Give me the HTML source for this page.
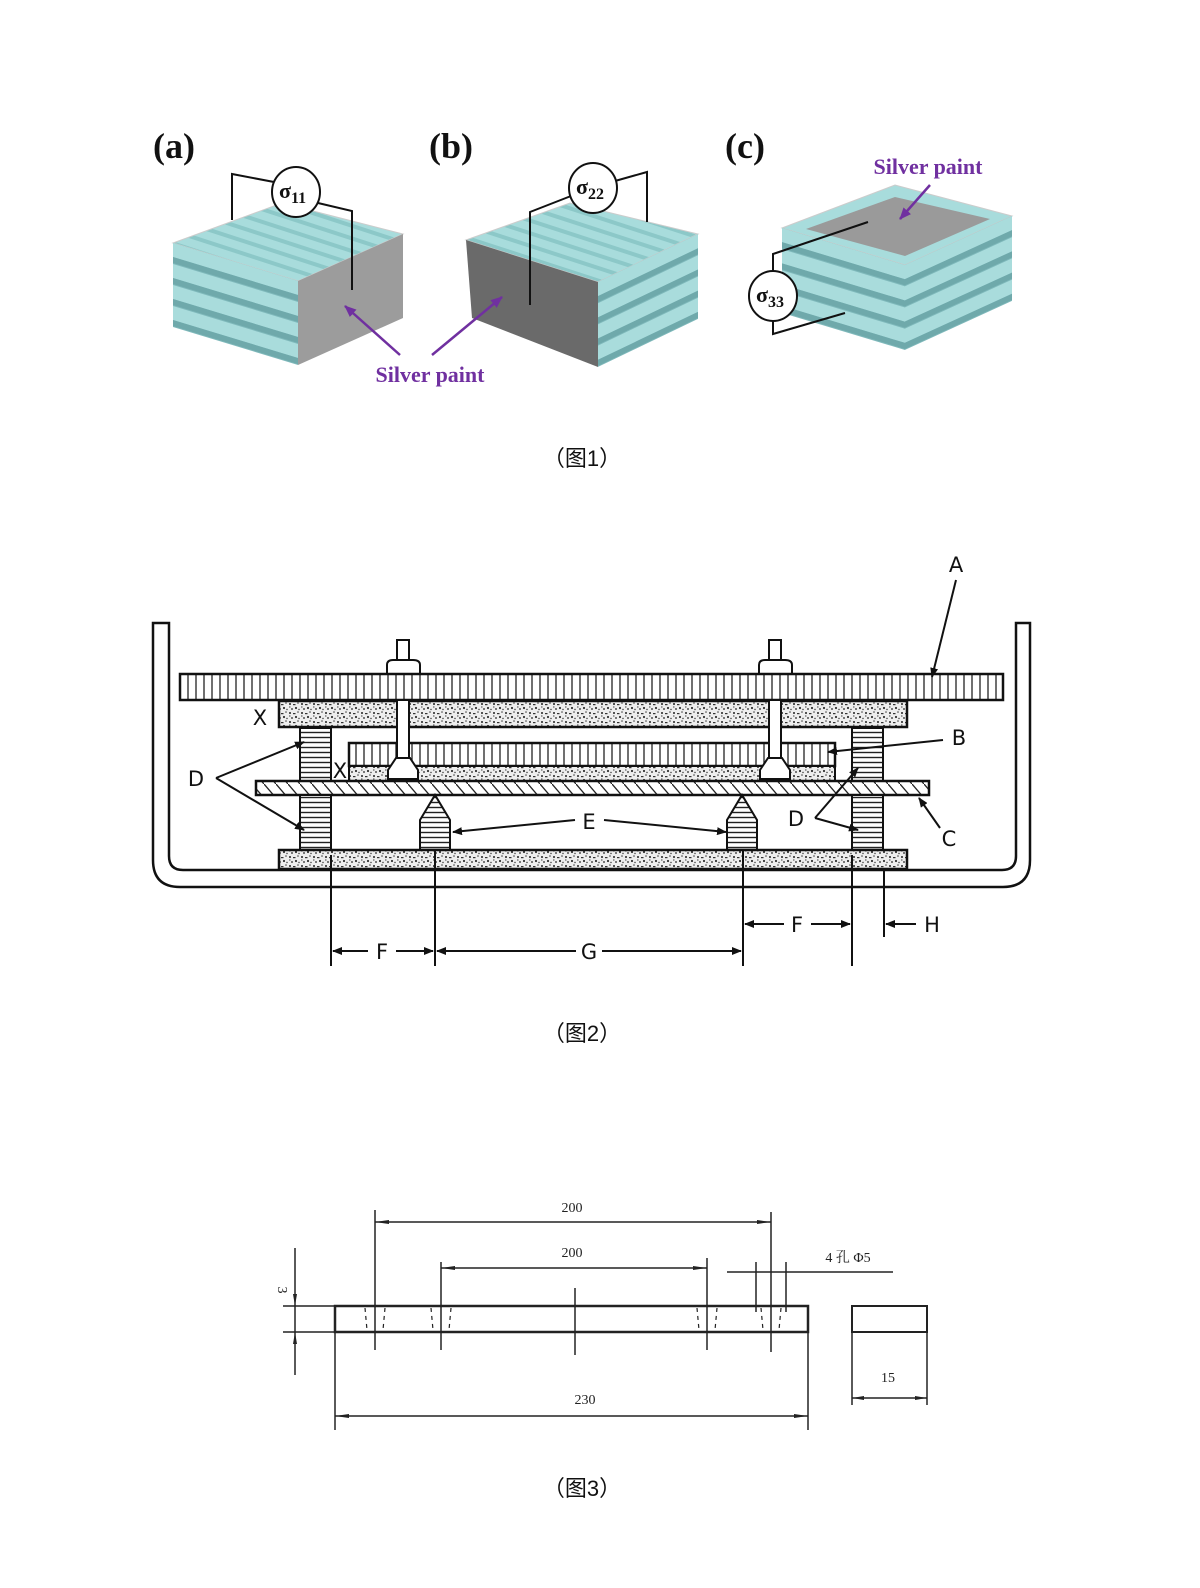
<!DOCTYPE html>
<html><head><meta charset="utf-8"><style>
html,body{margin:0;padding:0;background:#fff}
svg{display:block}
.cap{font-family:"Liberation Sans","Noto Sans CJK SC",sans-serif;font-size:22px;fill:#111}
.lab{font-family:"Liberation Serif",serif;font-weight:bold;font-size:36px;fill:#111}
.sp{font-family:"Liberation Serif",serif;font-weight:bold;font-size:22px;fill:#7030a0}
.sig{font-family:"Liberation Serif",serif;font-weight:bold;font-size:22px;fill:#111}
.f2{font-family:"DejaVu Sans","Liberation Sans",sans-serif;font-size:21px;fill:#111}
.f3{font-family:"Liberation Serif","Noto Serif CJK SC",serif;font-size:14px;fill:#222}
</style></head><body>
<svg width="1200" height="1588" viewBox="0 0 1200 1588" xmlns="http://www.w3.org/2000/svg">
<defs>
<pattern id="vh" width="8" height="10" patternUnits="userSpaceOnUse"><rect width="8" height="10" fill="#fff"/><line x1="4" y1="0" x2="4" y2="10" stroke="#222" stroke-width="1.3"/></pattern>
<pattern id="hh" width="10" height="5" patternUnits="userSpaceOnUse"><rect width="10" height="5" fill="#fff"/><line x1="0" y1="2.5" x2="10" y2="2.5" stroke="#222" stroke-width="1.4"/></pattern>
<pattern id="dh" width="12" height="14" patternUnits="userSpaceOnUse"><rect width="12" height="14" fill="#fff"/><line x1="0" y1="0" x2="12" y2="14" stroke="#222" stroke-width="1.3"/></pattern>
<pattern id="st" width="12" height="9" patternUnits="userSpaceOnUse"><rect width="12" height="9" fill="#eee"/><circle cx="2" cy="2" r="1" fill="#222"/><circle cx="8" cy="6" r="1.1" fill="#333"/><circle cx="10" cy="1" r="0.8" fill="#444"/><circle cx="4" cy="7" r="0.9" fill="#222"/><rect x="5" y="2" width="2.5" height="1.2" fill="#333"/><circle cx="11" cy="7.5" r="0.7" fill="#333"/><rect x="1" y="4.5" width="1.5" height="1" fill="#444"/></pattern>
<pattern id="tt" width="12" height="12" patternUnits="userSpaceOnUse" patternTransform="rotate(18)"><rect width="12" height="12" fill="#a8dcdc"/><rect y="8" width="12" height="4" fill="#8cc8c8"/></pattern>
<g id="bands">
<rect x="0" y="0" width="1" height="84" fill="#7fb9bb"/>
<rect x="0" y="0" width="1" height="14" fill="#a9dcdc"/><rect x="0" y="14" width="1" height="6" fill="#6fa9ab"/>
<rect x="0" y="21" width="1" height="14" fill="#a9dcdc"/><rect x="0" y="35" width="1" height="6" fill="#6fa9ab"/>
<rect x="0" y="42" width="1" height="14" fill="#a9dcdc"/><rect x="0" y="56" width="1" height="6" fill="#6fa9ab"/>
<rect x="0" y="63" width="1" height="14" fill="#a9dcdc"/><rect x="0" y="77" width="1" height="6" fill="#6fa9ab"/>
</g>
<marker id="ar" markerWidth="10" markerHeight="8" refX="9" refY="4" orient="auto" markerUnits="userSpaceOnUse"><path d="M0,0 L10,4 L0,8 Z" fill="#111"/></marker>
<marker id="ap" markerWidth="12" markerHeight="10" refX="11" refY="5" orient="auto" markerUnits="userSpaceOnUse"><path d="M0,0 L12,5 L0,10 Z" fill="#7030a0"/></marker>
</defs>

<!-- FIGURE 1 -->
<text class="lab" x="153" y="158">(a)</text>
<text class="lab" x="429" y="158">(b)</text>
<text class="lab" x="725" y="158">(c)</text>

<!-- block a -->
<polygon points="173,243 282,203 403,234 298,281" fill="url(#tt)" stroke="#ccc"/>
<g transform="translate(173,243) skewY(16.9)"><use href="#bands" transform="scale(125,1)"/></g>
<polygon points="298,281 403,234 403,318 298,365" fill="#9c9c9c"/>
<!-- block b -->
<polygon points="466,240 570,203 698,234 598,282" fill="url(#tt)" stroke="#ccc"/>
<polygon points="466,240 598,282 598,367 472,318" fill="#6a6a6a"/>
<g transform="translate(598,282) skewY(-25.6)"><use href="#bands" transform="scale(100,1.01)"/></g>
<!-- block c -->
<polygon points="782,228 895,185 1012,216 905,265" fill="#a8dcdc" stroke="#ccc"/>
<polygon points="806,229 895,197 990,219 905,256" fill="#9a9a9a"/>
<g transform="translate(782,228) skewY(16.8)"><use href="#bands" transform="scale(123,1.01)"/></g>
<g transform="translate(905,265) skewY(-24.6)"><use href="#bands" transform="scale(107,1.01)"/></g>

<g stroke="#111" stroke-width="2" fill="none">
<polyline points="274,182 232,174 232,220"/>
<polyline points="318,203 352,211 352,290"/>
<polyline points="571,196 530,212 530,305"/>
<polyline points="615,181 647,172 647,222"/>
<polyline points="773,272 773,254 868,222"/>
<polyline points="773,320 773,334 845,313"/>
</g>
<g fill="#fff" stroke="#111" stroke-width="2">
<ellipse cx="296" cy="192" rx="24" ry="25"/>
<ellipse cx="593" cy="188" rx="24" ry="25"/>
<ellipse cx="773" cy="296" rx="24" ry="25"/>
</g>
<text class="sig" x="279" y="198">σ<tspan font-size="16" dy="5">11</tspan></text>
<text class="sig" x="576" y="194">σ<tspan font-size="16" dy="5">22</tspan></text>
<text class="sig" x="756" y="302">σ<tspan font-size="16" dy="5">33</tspan></text>

<g stroke="#7030a0" stroke-width="2.5">
<line x1="400" y1="355" x2="345" y2="306" marker-end="url(#ap)"/>
<line x1="432" y1="355" x2="502" y2="297" marker-end="url(#ap)"/>
<line x1="930" y1="185" x2="900" y2="219" marker-end="url(#ap)"/>
</g>
<text class="sp" x="430" y="382" text-anchor="middle">Silver paint</text>
<text class="sp" x="928" y="174" text-anchor="middle">Silver paint</text>

<text class="cap" x="582" y="466" text-anchor="middle">（图1）</text>

<!-- FIGURE 2 -->
<g stroke="#111" stroke-width="2.5" fill="none">
<path d="M153,623 L153,860 Q153,887 180,887 L1003,887 Q1030,887 1030,860 L1030,623 L1016,623 L1016,856 Q1016,870 1002,870 L183,870 Q169,870 169,856 L169,623 Z" fill="#fff"/>
</g>
<g stroke="#111" stroke-width="2" fill="#fff">
<rect x="397" y="640" width="12" height="130"/>
<rect x="769" y="640" width="12" height="130"/>
<path d="M387,674 L387,665 Q387,660 393,660 L413,660 Q420,660 420,665 L420,674 Z"/>
<path d="M759,674 L759,665 Q759,660 765,660 L785,660 Q792,660 792,665 L792,674 Z"/>
</g>
<rect x="180" y="674" width="823" height="26" fill="url(#vh)" stroke="#111" stroke-width="2.5"/>
<rect x="279" y="701" width="628" height="26" fill="url(#st)" stroke="#111" stroke-width="2.5"/>
<rect x="300" y="728" width="31" height="53" fill="url(#hh)" stroke="#111" stroke-width="2"/>
<rect x="852" y="728" width="31" height="53" fill="url(#hh)" stroke="#111" stroke-width="2"/>
<rect x="349" y="743" width="486" height="23" fill="url(#vh)" stroke="#111" stroke-width="2.5"/>
<rect x="349" y="766" width="486" height="15" fill="url(#st)" stroke="#111" stroke-width="2"/>
<g stroke="#111" stroke-width="2" fill="#fff">
<rect x="397" y="700" width="12" height="70"/>
<rect x="769" y="700" width="12" height="70"/>
<path d="M388,779 L388,770 L396,758 L410,758 L418,770 L418,779 Z"/>
<path d="M760,779 L760,770 L768,758 L782,758 L790,770 L790,779 Z"/>
</g>
<rect x="256" y="781" width="673" height="14" fill="url(#dh)" stroke="#111" stroke-width="2.5"/>
<rect x="300" y="795" width="31" height="55" fill="url(#hh)" stroke="#111" stroke-width="2"/>
<rect x="852" y="795" width="31" height="55" fill="url(#hh)" stroke="#111" stroke-width="2"/>
<polygon points="420,850 420,820 435,795 450,820 450,850" fill="url(#hh)" stroke="#111" stroke-width="2"/>
<polygon points="727,850 727,820 742,795 757,820 757,850" fill="url(#hh)" stroke="#111" stroke-width="2"/>
<rect x="279" y="850" width="628" height="19" fill="url(#st)" stroke="#111" stroke-width="2.5"/>

<g stroke="#111" stroke-width="2" fill="none">
<line x1="331" y1="855" x2="331" y2="966"/>
<line x1="435" y1="850" x2="435" y2="966"/>
<line x1="743" y1="850" x2="743" y2="966"/>
<line x1="852" y1="855" x2="852" y2="966"/>
<line x1="884" y1="870" x2="884" y2="937"/>
<line x1="368" y1="951" x2="333" y2="951" marker-end="url(#ar)"/>
<line x1="396" y1="951" x2="433" y2="951" marker-end="url(#ar)"/>
<line x1="576" y1="951" x2="437" y2="951" marker-end="url(#ar)"/>
<line x1="602" y1="951" x2="741" y2="951" marker-end="url(#ar)"/>
<line x1="784" y1="924" x2="745" y2="924" marker-end="url(#ar)"/>
<line x1="811" y1="924" x2="850" y2="924" marker-end="url(#ar)"/>
<line x1="916" y1="924" x2="886" y2="924" marker-end="url(#ar)"/>
<line x1="956" y1="580" x2="932" y2="677" marker-end="url(#ar)"/>
<line x1="943" y1="740" x2="828" y2="752" marker-end="url(#ar)"/>
<line x1="216" y1="778" x2="304" y2="742" marker-end="url(#ar)"/>
<line x1="216" y1="778" x2="304" y2="830" marker-end="url(#ar)"/>
<line x1="815" y1="818" x2="858" y2="768" marker-end="url(#ar)"/>
<line x1="815" y1="818" x2="858" y2="830" marker-end="url(#ar)"/>
<line x1="575" y1="820" x2="453" y2="832" marker-end="url(#ar)"/>
<line x1="604" y1="820" x2="726" y2="832" marker-end="url(#ar)"/>
<line x1="940" y1="828" x2="919" y2="798" marker-end="url(#ar)"/>
</g>
<g class="f2">
<text x="956" y="572" text-anchor="middle">A</text>
<text x="260" y="725" text-anchor="middle">X</text>
<text x="340" y="778" text-anchor="middle">X</text>
<text x="959" y="745" text-anchor="middle">B</text>
<text x="196" y="786" text-anchor="middle">D</text>
<text x="796" y="826" text-anchor="middle">D</text>
<text x="589" y="829" text-anchor="middle">E</text>
<text x="949" y="846" text-anchor="middle">C</text>
<text x="382" y="959" text-anchor="middle">F</text>
<text x="589" y="959" text-anchor="middle">G</text>
<text x="797" y="932" text-anchor="middle">F</text>
<text x="932" y="932" text-anchor="middle">H</text>
</g>
<text class="cap" x="582" y="1041" text-anchor="middle">（图2）</text>

<!-- FIGURE 3 -->
<g stroke="#222" stroke-width="1.5" fill="none">
<rect x="335" y="1306" width="473" height="26" stroke-width="2.5"/>
<rect x="852" y="1306" width="75" height="26" stroke-width="2"/>
<line x1="283" y1="1306" x2="335" y2="1306"/>
<line x1="283" y1="1332" x2="335" y2="1332"/>
<line x1="295" y1="1248" x2="295" y2="1375"/>
<line x1="375" y1="1210" x2="375" y2="1350"/>
<line x1="771" y1="1212" x2="771" y2="1352"/>
<line x1="375" y1="1222" x2="771" y2="1222"/>
<line x1="441" y1="1262" x2="441" y2="1350"/>
<line x1="707" y1="1258" x2="707" y2="1350"/>
<line x1="441" y1="1268" x2="707" y2="1268"/>
<line x1="575" y1="1288" x2="575" y2="1355"/>
<line x1="727" y1="1272" x2="893" y2="1272"/>
<line x1="756" y1="1262" x2="756" y2="1312"/>
<line x1="786" y1="1262" x2="786" y2="1312"/>
<line x1="335" y1="1332" x2="335" y2="1430"/>
<line x1="808" y1="1332" x2="808" y2="1430"/>
<line x1="335" y1="1416" x2="808" y2="1416"/>
<line x1="852" y1="1332" x2="852" y2="1405"/>
<line x1="927" y1="1332" x2="927" y2="1405"/>
<line x1="852" y1="1398" x2="927" y2="1398"/>
<g stroke-dasharray="4,4" stroke-width="1.2">
<line x1="365" y1="1308" x2="367" y2="1330"/><line x1="385" y1="1308" x2="383" y2="1330"/>
<line x1="431" y1="1308" x2="433" y2="1330"/><line x1="451" y1="1308" x2="449" y2="1330"/>
<line x1="697" y1="1308" x2="699" y2="1330"/><line x1="717" y1="1308" x2="715" y2="1330"/>
<line x1="761" y1="1308" x2="763" y2="1330"/><line x1="781" y1="1308" x2="779" y2="1330"/>
</g>
</g>
<g fill="#222">
<path d="M375,1222 l14,-2 v4 z"/><path d="M771,1222 l-14,-2 v4 z"/>
<path d="M441,1268 l14,-2 v4 z"/><path d="M707,1268 l-14,-2 v4 z"/>
<path d="M335,1416 l14,-2 v4 z"/><path d="M808,1416 l-14,-2 v4 z"/>
<path d="M852,1398 l12,-2 v4 z"/><path d="M927,1398 l-12,-2 v4 z"/>
<path d="M295,1306 l-2,-12 h4 z"/><path d="M295,1332 l-2,12 h4 z"/>
</g>
<text class="f3" x="572" y="1212" text-anchor="middle">200</text>
<text class="f3" x="572" y="1257" text-anchor="middle">200</text>
<text class="f3" x="848" y="1262" text-anchor="middle">4 孔 Φ5</text>
<text class="f3" x="585" y="1404" text-anchor="middle">230</text>
<text class="f3" x="888" y="1382" text-anchor="middle">15</text>
<text class="f3" x="0" y="0" transform="translate(278,1290) rotate(90)" text-anchor="middle">3</text>

<text class="cap" x="582" y="1496" text-anchor="middle">（图3）</text>
</svg>
</body></html>
